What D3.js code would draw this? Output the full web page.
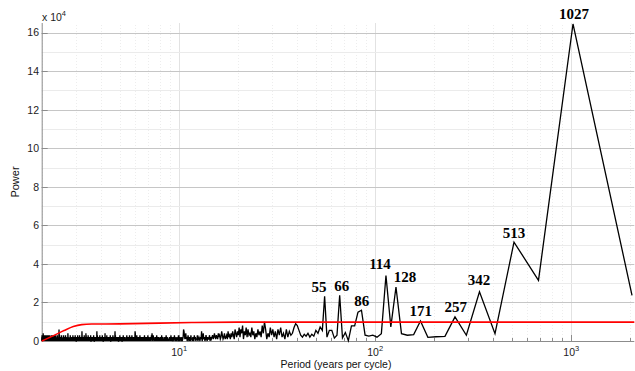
<!DOCTYPE html>
<html><head><meta charset="utf-8">
<script src="https://cdn.jsdelivr.net/npm/d3@7"></script>
<style>body{margin:0;background:#fff}svg{display:block}</style>
</head><body>
<svg id="c" width="635" height="371"></svg>
<script>
// Record length in years; harmonic k has period recordLength / k
const recordLength = 2054;
// Power (in thousands) for harmonics k = 1 .. 54
const lowHarmonicPower = [
  23.7,164.5,31.5,51.3,3.8,25.5,3.0,12.5,2.4,2.2,
  1.9,10.4,3.3,3.0,3.8,28.0,7.3,34.0,3.8,2.0,
  3.0,2.5,3.0,16.0,15.0,7.8,7.8,0.2,4.4,1.6,
  23.7,3.0,1.5,5.5,5.5,2.0,23.2,5.5,7.3,4.0,
  5.5,2.5,3.5,2.0,4.0,2.5,3.5,2.0,3.0,5.5,
  8.0,9.0,7.0,4.0
];
// Power (in thousands) for harmonics k = 55 .. 1027
const highHarmonicPower = [
  3,5,2,6,1,4,2,7,3,6,1,5,2,6,3,7,2,4,1,6,10,4,8,2,5,3,6,2,4,1,5,3,7,2,4,
  3,6,2,7,3,5,1,8,4,6,2,7,3,5,2,4,6,1,3,5,2,4,1,3,2,5,1,3,2,1,4,2,1,3,5,2,1,3,2,4,1,2,3,1,2,4,2,1,3,2,
  1,2,0,3,1,1,2,0,1,3,1,0,2,1,4,1,0,5,1,2,
  0,1,2,1,0,3,1,1,0,2,1,3,0,1,2,0,1,1,3,0,
  1,2,0,1,3,1,0,2,1,4,2,1,3,5,6,2,1,0,2,1,
  0,1,2,1,0,1,3,0,1,1,2,0,1,0,2,1,3,0,1,2,
  1,0,1,2,0,3,1,0,1,2,1,0,1,1,0,2,1,0,3,1,
  0,1,2,0,1,1,0,2,1,0,1,3,0,1,2,1,0,1,0,2,
  1,0,1,2,0,1,3,1,0,1,2,0,1,1,0,2,1,3,1,0,
  2,4,1,3,0,1,2,0,1,1,0,2,1,0,1,3,1,0,1,2,
  0,1,1,2,0,1,0,3,1,0,1,2,0,1,1,0,2,1,0,1,
  2,1,0,1,3,0,1,1,0,2,1,0,1,2,1,0,3,1,2,1,
  0,2,4,5,1,0,1,2,0,1,1,0,2,1,0,1,3,0,1,1,
  0,2,1,0,1,1,3,0,1,2,0,1,0,1,2,1,0,1,3,1,
  0,1,2,0,1,1,0,
  1,0,2,1,0,1,0,3,1,0,1,2,0,0,1,1,0,2,1,0,
  1,0,1,3,0,1,2,0,1,0,0,1,2,1,0,1,0,2,0,1,
  0,1,2,1,0,3,1,5,2,0,1,0,1,2,0,1,0,1,3,0,
  1,0,2,0,1,1,0,2,1,0,0,1,3,0,1,0,2,1,0,1,
  0,2,1,0,1,0,1,2,0,1,0,3,1,0,1,1,0,2,0,1,
  0,4,1,2,0,1,0,1,2,0,1,0,0,2,1,0,1,3,0,1,
  1,0,2,0,1,0,1,1,0,2,1,0,3,0,1,0,2,1,0,1,
  0,1,0,2,1,0,1,3,1,0,5,2,0,1,0,1,2,0,1,0,
  1,0,2,1,0,1,0,0,2,1,0,3,1,0,1,0,2,0,1,1,
  0,2,0,1,0,1,2,1,0,0,1,3,0,1,0,2,1,0,1,0,
  2,0,1,1,0,2,0,1,3,1,0,1,0,2,1,0,1,0,2,1,
  0,1,3,0,4,1,0,2,0,1,0,1,2,0,1,0,3,1,0,1,
  0,2,1,0,1,0,2,1,0,1,0,1,3,5,2,0,1,0,2,1,
  0,1,0,2,1,0,1,2,0,1,0,3,0,1,1,0,2,0,1,0,
  1,2,0,1,0,1,3,0,1,0,2,1,0,1,0,1,2,0,0,1,
  0,1,2,0,1,0,3,1,0,1,0,2,1,0,1,0,1,2,0,1,
  0,2,1,0,1,3,0,1,0,2,0,1,1,0,2,1,0,1,0,2,
  1,0,1,0,2,1,0,3,1,0,1,0,2,0,1,1,0,2,1,0,
  1,0,2,1,0,1,0,3,4,1,0,2,0,1,0,1,2,0,1,0,
  2,0,1,0,1,2,0,1,0,3,1,0,1,0,2,1,0,1,0,2,
  0,1,0,2,1,0,1,3,0,1,0,1,2,0,1,0,2,1,0,1,
  0,2,1,0,1,0,3,1,0,1,2,0,1,0,1,2,0,1,0,1,
  2,0,1,0,1,3,1,0,2,4,1,6,3,0,1,0,2,1,0,1,
  0,1,2,0,1,0,1,3,0,1,0,2,1,0,1,0,2,0,1,1,
  0,2,0,1,3,1,0,1,0,2,1,0,1,0,1,2,0,3,1,0,
  1,0,2,1,0,1,0,1,2,0,1,0,3,1,0,1,0,2,1,0,
  1,0,1,2,0,1,0,3,1,0,1,0,2,1,0,1,2,0,1,0,
  2,0,1,0,1,3,0,1,0,2,1,0,1,0,1,2,0,1,0,3,
  0,1,0,2,1,0,1,0,2,1,0,3,1,0,1,0,2,0,1,1,
  0,2,1,0,1,0,3,1,0,1,2,0,1,0,1,2,0,1,3,1,
  0,1,0,2,1,0,1,2,0,3,1,0,1,0,2,1,0,1,2,0,
  1,0,4,2,1,3,0,1,2,0,1,0,2,1,0,1,3,0,1,2,
  0
];
// Red significance curve (period, power in thousands)
const redPeriods = [2, 2.3, 2.6, 2.9, 3.2, 3.6, 5, 8, 12, 20, 2110];
const redPower   = [0, 2.8, 5.4, 7.5, 8.5, 8.8, 8.9, 9.3, 9.6, 9.8, 9.8];
// Axis ticks
const yTicks = [0, 2, 4, 6, 8, 10, 12, 14, 16];
const yMinorTicks = [1, 3, 5, 7, 9, 11, 13, 15];
const xTickExponents = [1, 2, 3];
// Peak annotations (text, period at text centre, power in thousands at baseline)
const peakLabels       = ["55", "66", "86", "114", "128", "171", "257", "342", "513", "1027"];
const peakLabelPeriods = [52.0, 67.9, 85.9, 106.4, 142.7, 171.9, 259.3, 340.6, 513.6, 1039];
const peakLabelPowers  = [25.6, 25.9, 18.2, 37.1, 30.8, 13.0, 15.2, 29.1, 53.4, 167.3];

const powerAll = lowHarmonicPower.concat(highHarmonicPower);
const series = powerAll.map((p, i) => ({period: recordLength / (i + 1), power: p * 1000}))
  .sort((a, b) => a.period - b.period);
const redSeries = redPeriods.map((p, i) => ({period: p, power: redPower[i] * 1000}));

const svg = d3.select("#c");
svg.append("rect").attr("width", 635).attr("height", 371).attr("fill", "#fff");

const x = d3.scaleLog().domain([2, 2110]).range([41.7, 634.3]);
const y = d3.scaleLinear().domain([0, 165000]).range([341, 23]);
const [x0, x1] = x.range();
const [yb, yt] = y.range();
const px = v => Math.round(v) + 0.5;

const g = svg.append("g");
// minor vertical grid
const minorX = [];
for (let e = 0; e <= 3; e++) for (let m = 2; m <= 9; m++) {
  const v = m * Math.pow(10, e);
  if (v >= 2 && v <= 2110) minorX.push(v);
}
g.selectAll(".mxg").data(minorX).enter().append("line")
  .attr("x1", d => px(x(d))).attr("x2", d => px(x(d))).attr("y1", yb).attr("y2", yt)
  .attr("stroke", "#ededed").attr("stroke-width", 1).attr("stroke-dasharray", "1,2");
g.selectAll(".Mxg").data(xTickExponents).enter().append("line")
  .attr("x1", d => px(x(Math.pow(10, d)))).attr("x2", d => px(x(Math.pow(10, d))))
  .attr("y1", yb).attr("y2", yt).attr("stroke", "#e2e2e2").attr("stroke-width", 1);
g.selectAll(".myg").data(yMinorTicks).enter().append("line")
  .attr("x1", x0).attr("x2", x1).attr("y1", d => px(y(d * 1e4)))
  .attr("y2", d => px(y(d * 1e4))).attr("stroke", "#ebebeb").attr("stroke-width", 1);
g.selectAll(".Myg").data(yTicks.slice(1)).enter().append("line")
  .attr("x1", x0).attr("x2", x1).attr("y1", d => px(y(d * 1e4)))
  .attr("y2", d => px(y(d * 1e4))).attr("stroke", "#c6c6c6").attr("stroke-width", 1);

// axes (ticks pointing inward)
const axG = svg.append("g");
axG.append("line").attr("x1", x0).attr("x2", x1).attr("y1", yb + 0.5).attr("y2", yb + 0.5)
  .attr("stroke", "#8c8c8c");
axG.append("line").attr("x1", x0 + 0.5).attr("x2", x0 + 0.5).attr("y1", yt).attr("y2", yb + 0.5)
  .attr("stroke", "#8c8c8c");
axG.selectAll(".xmt").data(minorX).enter().append("line")
  .attr("x1", d => px(x(d))).attr("x2", d => px(x(d)))
  .attr("y1", yb).attr("y2", yb - 3).attr("stroke", "#8c8c8c");
axG.selectAll(".xMt").data(xTickExponents).enter().append("line")
  .attr("x1", d => px(x(Math.pow(10, d)))).attr("x2", d => px(x(Math.pow(10, d))))
  .attr("y1", yb).attr("y2", yb - 6).attr("stroke", "#8c8c8c");
axG.selectAll(".yMt").data(yTicks).enter().append("line")
  .attr("x1", x0).attr("x2", x0 + 6).attr("y1", d => px(y(d * 1e4)))
  .attr("y2", d => px(y(d * 1e4))).attr("stroke", "#8c8c8c");

// tick labels
const font = "Liberation Sans, Arial, Helvetica, sans-serif";
svg.selectAll(".yl").data(yTicks).enter().append("text")
  .attr("x", 39).attr("y", d => y(d * 1e4) + 3.8).attr("text-anchor", "end")
  .attr("font-family", font).attr("font-size", 10.5).attr("fill", "#222").text(d => d);
const xl = svg.selectAll(".xl").data(xTickExponents).enter().append("text")
  .attr("x", d => x(Math.pow(10, d)) + 0.5).attr("y", 355.5).attr("text-anchor", "middle")
  .attr("font-family", font).attr("font-size", 10.5).attr("fill", "#222");
xl.append("tspan").text("10");
xl.append("tspan").attr("dy", -4.5).attr("font-size", 7.5).text(d => d);

const ex = svg.append("text").attr("x", 42).attr("y", 20.5).attr("font-family", font)
  .attr("font-size", 10.5).attr("fill", "#222");
ex.append("tspan").text("x 10");
ex.append("tspan").attr("dy", -4.5).attr("font-size", 7.5).text("4");

svg.append("text").attr("transform", "translate(19,182) rotate(-90)").attr("text-anchor", "middle")
  .attr("font-family", font).attr("font-size", 11).attr("fill", "#111").text("Power");
svg.append("text").attr("x", 336).attr("y", 367.5).attr("text-anchor", "middle")
  .attr("font-family", font).attr("font-size", 10.5).attr("fill", "#111").text("Period (years per cycle)");

// data lines
const line = d3.line().x(d => x(d.period)).y(d => y(d.power));
svg.append("path").datum(series).attr("d", line).attr("fill", "none")
  .attr("stroke", "#000").attr("stroke-width", 1.3).attr("stroke-linejoin", "miter");
svg.append("path").datum(redSeries).attr("d", d3.line().x(d => x(d.period)).y(d => y(d.power)).curve(d3.curveMonotoneX))
  .attr("fill", "none").attr("stroke", "#ff0000").attr("stroke-width", 1.6);

// peak labels
svg.selectAll(".pl").data(peakLabels).enter().append("text")
  .attr("x", (d, i) => x(peakLabelPeriods[i])).attr("y", (d, i) => y(peakLabelPowers[i] * 1000))
  .attr("text-anchor", "middle").attr("font-family", "Liberation Serif, Times New Roman, serif")
  .attr("font-weight", "bold").attr("font-size", 15).attr("fill", "#000").text(d => d);
</script>
</body></html>
